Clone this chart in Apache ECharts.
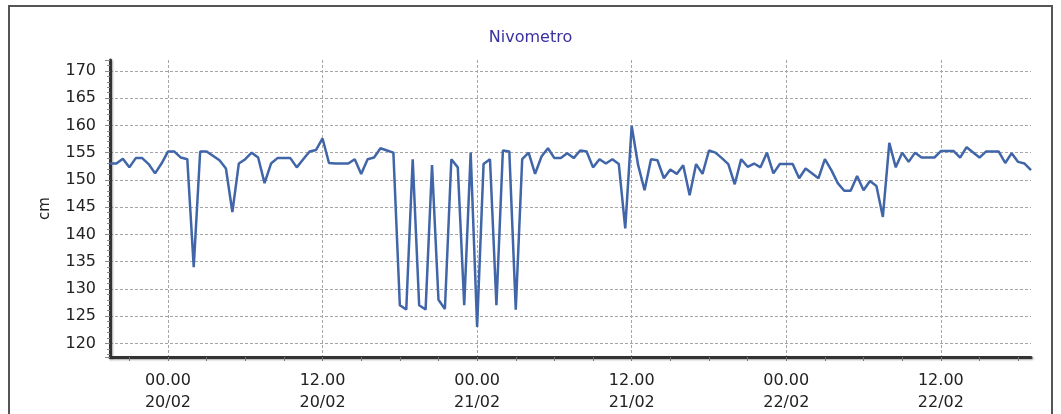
<!DOCTYPE html>
<html>
<head>
<meta charset="utf-8">
<script src="https://cdn.jsdelivr.net/npm/echarts@6/dist/echarts.min.js"></script>
<style>
html,body{margin:0;padding:0;background:#fff;}
#c{width:1061px;height:414px;}
</style>
</head>
<body>
<div id="c"></div>
<script>
// ---- data ----
const title = 'Nivometro';
const yName = 'cm';
const rangeStart = '19/02 19:30';
const rangeEnd = '22/02 19:00';
const times = [
 '19/02 19:30','19/02 20:00','19/02 20:30','19/02 21:00','19/02 21:30','19/02 22:00','19/02 22:30','19/02 23:00','19/02 23:30',
 '20/02 00:00','20/02 00:30','20/02 01:00','20/02 01:30','20/02 02:00','20/02 02:30','20/02 03:00','20/02 04:00','20/02 04:30',
 '20/02 05:00','20/02 05:30','20/02 06:00','20/02 06:30','20/02 07:00','20/02 07:30','20/02 08:00','20/02 08:30','20/02 09:00',
 '20/02 09:30','20/02 10:00','20/02 10:30','20/02 11:00','20/02 11:30','20/02 12:00','20/02 12:30','20/02 13:00','20/02 13:30',
 '20/02 14:00','20/02 14:30','20/02 15:00','20/02 15:30','20/02 16:00','20/02 16:30','20/02 17:00','20/02 17:30','20/02 18:00',
 '20/02 18:30','20/02 19:00','20/02 19:30','20/02 20:00','20/02 20:30','20/02 21:00','20/02 21:30','20/02 22:00','20/02 22:30',
 '20/02 23:00','20/02 23:30',
 '21/02 00:00','21/02 00:30','21/02 01:00','21/02 01:30','21/02 02:00','21/02 02:30','21/02 03:00','21/02 03:30','21/02 04:00',
 '21/02 04:30','21/02 05:00','21/02 05:30','21/02 06:00','21/02 06:30','21/02 07:00','21/02 07:30','21/02 08:00','21/02 08:30',
 '21/02 09:00','21/02 09:30','21/02 10:00','21/02 10:30','21/02 11:00','21/02 11:30','21/02 12:00','21/02 12:30','21/02 13:00',
 '21/02 13:30','21/02 14:00','21/02 14:30','21/02 15:00','21/02 15:30','21/02 16:00','21/02 16:30','21/02 17:00','21/02 17:30',
 '21/02 18:00','21/02 18:30','21/02 19:00','21/02 19:30','21/02 20:00','21/02 20:30','21/02 21:00','21/02 21:30','21/02 22:00',
 '21/02 22:30','21/02 23:00','21/02 23:30',
 '22/02 00:00','22/02 00:30','22/02 01:00','22/02 01:30','22/02 02:30','22/02 03:00','22/02 03:30','22/02 04:00','22/02 04:30',
 '22/02 05:00','22/02 05:30','22/02 06:00','22/02 06:30','22/02 07:00','22/02 07:30','22/02 08:00','22/02 08:30','22/02 09:00',
 '22/02 09:30','22/02 10:00','22/02 10:30','22/02 11:00','22/02 11:30','22/02 12:00','22/02 12:30','22/02 13:00','22/02 13:30',
 '22/02 14:00','22/02 15:00','22/02 15:30','22/02 16:00','22/02 16:30','22/02 17:00','22/02 17:30','22/02 18:00','22/02 18:30',
 '22/02 19:00'
];
const levels = [
 153.0,153.0,153.9,152.3,154.0,154.0,152.9,151.2,153.0,
 155.2,155.2,154.1,153.8,134.0,155.2,155.2,153.6,152.1,
 144.1,153.0,153.8,155.0,154.1,149.4,153.0,154.0,154.0,
 154.0,152.3,153.8,155.2,155.5,157.6,153.1,153.0,153.0,
 153.0,153.8,151.1,153.8,154.1,155.8,155.4,155.0,127.0,
 126.2,153.8,127.0,126.2,152.7,128.0,126.3,153.8,152.3,
 127.0,155.0,
 123.0,152.9,153.8,127.0,155.4,155.2,126.2,153.8,155.0,
 151.1,154.3,155.8,154.0,154.0,154.9,154.0,155.4,155.2,
 152.3,153.8,153.0,153.8,152.9,141.1,159.9,152.7,148.1,
 153.8,153.6,150.3,151.9,151.1,152.7,147.2,152.9,151.1,
 155.4,155.0,154.0,152.9,149.2,153.8,152.4,153.0,152.3,
 155.0,151.2,152.9,
 152.9,152.9,150.3,152.1,150.3,153.8,151.8,149.4,148.0,
 148.0,150.7,148.1,149.8,148.9,143.2,156.8,152.3,155.0,
 153.3,155.0,154.1,154.1,154.1,155.3,155.3,155.3,154.1,
 156.0,154.1,155.2,155.2,155.2,153.1,154.9,153.3,153.0,
 151.8
];
const yMin = 117.5, yMax = 172, yStep = 5;
const tickHours = 3;      // small ticks every 3 h
const labelHours = 12;    // labels / grid every 12 h

// ---- build category slots (30 min) ----
function parseKey(k){ const [d,t]=k.split(' '); const [dd,mm]=d.split('/').map(Number); const [hh,mi]=t.split(':').map(Number); return new Date(2013,mm-1,dd,hh,mi); }
function pad(n){ return (n<10?'0':'')+n; }
function fmtKey(dt){ return pad(dt.getDate())+'/'+pad(dt.getMonth()+1)+' '+pad(dt.getHours())+':'+pad(dt.getMinutes()); }
const cats = [];
for (let t = parseKey(rangeStart).getTime(); t <= parseKey(rangeEnd).getTime(); t += 30*60000) cats.push(fmtKey(new Date(t)));
const lookup = {};
times.forEach((k,i)=>lookup[k]=levels[i]);
const seriesData = cats.map(k => (k in lookup) ? lookup[k] : null);

function hm(k){ return k.split(' ')[1].split(':').map(Number); }
const isTick = (i,k)=>{ const [h,m]=hm(k); return m===0 && h%tickHours===0; };
const isLabel = (i,k)=>{ const [h,m]=hm(k); return m===0 && h%labelHours===0; };

const FONT = 'DejaVu Sans';
const chart = echarts.init(document.getElementById('c'), null, {renderer:'canvas'});
chart.setOption({
  animation:false,
  backgroundColor:'#fff',
  title:{ text:title, left:'center', top:25, textStyle:{ fontFamily:FONT, fontSize:16, fontWeight:'normal', color:'#3a30a0' } },
  grid:{ left:110, right:30, top:60, bottom:57, containLabel:false, outerBoundsMode:'none' },
  xAxis:{
    type:'category', boundaryGap:false, data:cats,
    axisLine:{ show:true, lineStyle:{ color:'#333', width:3, shadowColor:'rgba(0,0,0,0.35)', shadowBlur:2, shadowOffsetX:1, shadowOffsetY:1 } },
    axisTick:{ show:true, interval:isTick, length:4, lineStyle:{ color:'#777' } },
    axisLabel:{ show:true, interval:isLabel, margin:13, fontFamily:FONT, fontSize:16, lineHeight:22, color:'#222',
      formatter:(k)=>{ const [d,t]=k.split(' '); return t.replace(':','.')+'\n'+d; } },
    splitLine:{ show:true, interval:isLabel, lineStyle:{ color:'#a6a6a6', type:[3,2], width:1 } }
  },
  yAxis:{
    type:'value', min:yMin, max:yMax, splitNumber:10,
    name:yName, nameLocation:'middle', nameRotate:90, nameGap:57,
    nameTextStyle:{ fontFamily:FONT, fontSize:15, color:'#222' },
    axisLine:{ show:true, lineStyle:{ color:'#333', width:3, shadowColor:'rgba(0,0,0,0.35)', shadowBlur:2, shadowOffsetX:1, shadowOffsetY:1 } },
    axisTick:{ show:true, length:5, lineStyle:{ color:'#888' } },
    minorTick:{ show:true, splitNumber:5, length:3, lineStyle:{ color:'#888' } },
    axisLabel:{ margin:14, fontFamily:FONT, fontSize:16, color:'#222',
      formatter:(v)=> (Math.abs(v/yStep - Math.round(v/yStep))<1e-6) ? String(v) : '' },
    splitLine:{ show:true, showMinLine:false, showMaxLine:false, lineStyle:{ color:'#a6a6a6', type:[3,2], width:1 } }
  },
  series:[{
    type:'line', data:seriesData, connectNulls:true, showSymbol:false, symbol:'none',
    lineStyle:{ color:'#4065a8', width:2.5 }
  }],
  graphic:[{
    type:'rect', silent:true, z:-1,
    shape:{ x:9, y:6, width:1043, height:430 },
    style:{ fill:'none', stroke:'#555', lineWidth:2 }
  }]
});
</script>
</body>
</html>
